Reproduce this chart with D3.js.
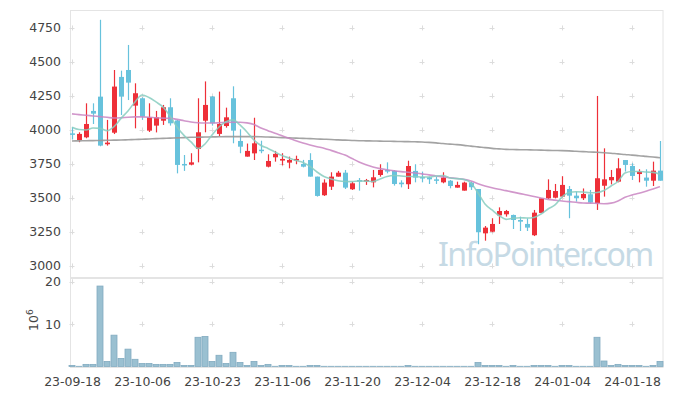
<!DOCTYPE html>
<html><head><meta charset="utf-8">
<script src="https://cdn.jsdelivr.net/npm/d3@7"></script>
<style>body{margin:0;background:#fff}svg{display:block}</style>
</head><body><svg id="c" width="673" height="396"></svg>
<script>
const dates = ["23-09-18","23-09-19","23-09-20","23-09-21","23-09-22","23-09-25","23-09-26","23-09-27",
"23-10-04","23-10-05","23-10-06","23-10-10","23-10-11","23-10-12","23-10-13","23-10-16","23-10-17","23-10-18","23-10-19","23-10-20",
"23-10-23","23-10-24","23-10-25","23-10-26","23-10-27","23-10-30","23-10-31","23-11-01","23-11-02","23-11-03",
"23-11-06","23-11-07","23-11-08","23-11-09","23-11-10","23-11-13","23-11-14","23-11-15","23-11-16","23-11-17",
"23-11-20","23-11-21","23-11-22","23-11-23","23-11-24","23-11-27","23-11-28","23-11-29","23-11-30","23-12-01",
"23-12-04","23-12-05","23-12-06","23-12-07","23-12-08","23-12-11","23-12-12","23-12-13","23-12-14","23-12-15",
"23-12-18","23-12-19","23-12-20","23-12-21","23-12-22","23-12-26","23-12-27","23-12-28","24-01-02","24-01-03",
"24-01-04","24-01-05","24-01-08","24-01-09","24-01-10","24-01-11","24-01-12","24-01-15","24-01-16","24-01-17",
"24-01-18","24-01-19","24-01-22","24-01-23","24-01-24"];
const open  = [3975,3926,3946,4140,4245,3895,3980,4390,4441,4179,4233,3995,4032,4068,4167,4070,3750,3745,3860,4068,
4245,3971,4029,4233,3919,3804,3828,3855,3730,3799,3775,3760,3775,3750,3779,3657,3520,3583,3657,3686,
3564,3632,3625,3615,3669,3706,3699,3613,3601,3699,3654,3652,3637,3615,3627,3576,3554,3613,3566,3240,
3252,3372,3380,3375,3338,3309,3226,3390,3497,3502,3510,3566,3517,3498,3527,3461,3590,3630,3620,3779,
3735,3676,3650,3627,3701];
const high  = [4020,3983,4196,4196,4810,4074,4441,4436,4625,4343,4240,4196,4140,4184,4233,4074,3816,3829,4233,4357,
4250,4282,4164,4321,4005,3900,4090,3921,3821,3846,3829,3804,3811,3780,3829,3657,3637,3689,3699,3706,
3620,3647,3640,3706,3748,3762,3704,3630,3774,3748,3694,3657,3657,3689,3632,3620,3620,3620,3566,3294,
3351,3431,3412,3378,3363,3350,3412,3500,3637,3603,3660,3588,3546,3570,3559,4250,3865,3706,3792,3779,
3755,3711,3711,3767,3919];
const low   = [3930,3910,3939,4044,3880,3885,3970,4110,4220,4012,4074,3985,3982,4037,4032,3681,3699,3740,3762,3983,
4032,3955,4017,3902,3829,3804,3779,3829,3725,3767,3740,3718,3748,3725,3657,3510,3515,3559,3657,3566,
3559,3554,3596,3578,3657,3681,3591,3578,3566,3615,3615,3603,3603,3608,3571,3576,3554,3559,3160,3186,
3248,3309,3363,3272,3257,3257,3220,3390,3492,3497,3505,3351,3473,3485,3460,3412,3510,3600,3615,3694,
3632,3615,3583,3588,3627];
const close = [3965,3971,4044,4120,3885,3907,4319,4245,4348,4270,4098,4093,4093,4167,4049,3743,3740,3762,3983,4184,
4049,4044,4093,3995,3877,3846,3902,3845,3772,3824,3787,3779,3787,3730,3657,3515,3613,3657,3686,3576,
3608,3620,3632,3652,3706,3694,3603,3601,3735,3650,3647,3637,3627,3650,3588,3596,3613,3579,3248,3282,
3309,3404,3404,3338,3326,3282,3392,3497,3559,3551,3596,3517,3498,3529,3466,3645,3637,3654,3718,3743,
3662,3694,3627,3701,3627];
const volume = [0.25,0.05,0.5,0.5,19.0,1.2,7.4,1.9,4.1,1.7,0.7,0.7,0.5,0.5,0.5,0.95,0.25,0.25,6.9,7.1,
1.2,2.65,0.7,3.35,0.95,0.25,1.2,0.25,0.5,0.05,0.25,0.25,0.05,0.05,0.25,0.25,0.05,0.05,0.05,0.05,
0.05,0.05,0.05,0.05,0.05,0.05,0.05,0.05,0.25,0.05,0.05,0.05,0.05,0.05,0.05,0.05,0.05,0.05,0.95,0.25,
0.25,0.25,0.05,0.25,0.05,0.05,0.25,0.25,0.25,0.05,0.25,0.25,0.05,0.05,0.05,6.9,1.3,0.25,0.5,0.25,
0.25,0.25,0.05,0.25,1.2];
const ma5 = [4020,4003,4000,4015,4012,3995,4025,4085,4140,4206,4257,4239,4206,4169,4103,4022,3960,3912,3864,3897,
3963,4022,4061,4074,4037,3985,3926,3886,3864,3838,3812,3794,3775,3761,3732,3691,3658,3640,3627,3621,
3620,3625,3624,3621,3640,3658,3665,3662,3658,3657,3654,3654,3662,3665,3647,3642,3636,3610,3537,3456,
3412,3371,3343,3351,3355,3353,3357,3382,3419,3449,3507,3540,3546,3544,3538,3540,3555,3588,3621,3684,
3695,3695,3691,3688,3675];
const ma20 = [4118,4113,4108,4103,4098,4093,4088,4090,4094,4096,4096,4094,4090,4087,4085,4078,4068,4059,4053,4051,
4051,4053,4056,4057,4057,4052,4040,4015,3995,3975,3958,3940,3920,3904,3890,3877,3866,3850,3833,3816,
3790,3765,3745,3728,3716,3707,3700,3694,3689,3684,3677,3670,3662,3655,3649,3643,3637,3625,3605,3588,
3575,3564,3554,3543,3532,3522,3511,3500,3490,3484,3478,3473,3468,3463,3462,3460,3458,3462,3478,3505,
3522,3535,3550,3566,3583];
const ma120 = [3919,3920,3921,3922,3923,3924,3925,3926,3928,3930,3932,3934,3936,3938,3940,3942,3944,3946,3947,3948,
3949,3950,3951,3951,3951,3951,3951,3950,3948,3946,3944,3942,3940,3938,3936,3934,3932,3930,3927,3925,
3923,3921,3920,3919,3918,3917,3916,3915,3914,3913,3912,3909,3905,3900,3896,3892,3887,3881,3876,3870,
3865,3861,3857,3856,3855,3854,3853,3852,3850,3849,3848,3846,3843,3841,3838,3836,3833,3829,3824,3820,
3815,3811,3806,3801,3796];
const priceTicks = [3000,3250,3500,3750,4000,4250,4500,4750];
const volTicks = [10,20];
const xTickLabels = ["23-09-18","23-10-06","23-10-23","23-11-06","23-11-20","23-12-04","23-12-18","24-01-04","24-01-18"];

const svg = d3.select("#c");
const L=70, R=663, T=10, PB=277, VT=278, VB=367;
const x = d3.scalePoint().domain(dates).range([72,660]);
const y = d3.scaleLinear().domain([2919,4882]).range([PB,T]);
const yv = d3.scaleLinear().domain([0,20.9]).range([366.5,VT]);
const FONT = "DejaVu Sans, sans-serif";
const RED="#ee2f38", BLUE="#67c2dc";

// panel borders
svg.append("rect").attr("x",L+0.5).attr("y",T+0.5).attr("width",R-L-0.5).attr("height",PB-T)
  .attr("fill","none").attr("stroke","#e4e4e4");
svg.append("rect").attr("x",L+0.5).attr("y",VT+0.5).attr("width",R-L-0.5).attr("height",VB-VT)
  .attr("fill","none").attr("stroke","#e4e4e4");

// grid crosses
const gx = xTickLabels.map(d=>x(d));
const crosses = [];
gx.forEach(cx=>{ priceTicks.forEach(v=>crosses.push([cx,y(v)])); volTicks.forEach(v=>crosses.push([cx,yv(v)])); });
const cg = svg.append("g").attr("stroke","#dcdcdc").attr("stroke-width",1);
crosses.forEach(([cx,cy])=>{
  cg.append("line").attr("x1",cx-2.5).attr("x2",cx+2.5).attr("y1",Math.round(cy)+0.5).attr("y2",Math.round(cy)+0.5);
  cg.append("line").attr("x1",Math.round(cx)+0.5).attr("x2",Math.round(cx)+0.5).attr("y1",cy-2.5).attr("y2",cy+2.5);
});

// watermark
svg.append("text").attr("x",438).attr("y",266).attr("font-family","Noto Sans, sans-serif")
  .attr("font-size",32).attr("letter-spacing",-1.6).attr("fill","#c6dae5")
  .text("InfoPointer.com");

// volume bars
svg.append("g").selectAll("rect").data(dates).join("rect")
  .attr("x",(d)=>x(d)-3).attr("width",6)
  .attr("y",(d,i)=>yv(volume[i])).attr("height",(d,i)=>yv(0)-yv(volume[i]))
  .attr("fill","#9ac0d1").attr("stroke","#82abc0").attr("stroke-width",0.8);

// candles
const cs = svg.append("g");
dates.forEach((d,i)=>{
  const up = close[i]>=open[i];
  const col = up?RED:BLUE;
  const cx = Math.round(x(d))+0.5;
  cs.append("line").attr("x1",cx).attr("x2",cx).attr("y1",y(high[i])).attr("y2",y(low[i]))
    .attr("stroke",col).attr("stroke-width",1.2);
  const top = y(Math.max(open[i],close[i])), bot = y(Math.min(open[i],close[i]));
  cs.append("rect").attr("x",cx-2.5).attr("width",5).attr("y",top).attr("height",Math.max(1.5,bot-top))
    .attr("fill",col);
});

// moving averages
const line = arr => d3.line().x((d,i)=>x(dates[i])).y(d=>y(d)).curve(d3.curveMonotoneX)(arr);
svg.append("path").attr("d",line(ma120)).attr("fill","none").attr("stroke","#999").attr("stroke-width",1.6).attr("opacity",0.9);
svg.append("path").attr("d",line(ma20)).attr("fill","none").attr("stroke","#c985c2").attr("stroke-width",1.6).attr("opacity",0.85);
svg.append("path").attr("d",line(ma5)).attr("fill","none").attr("stroke","#87cdbf").attr("stroke-width",1.6).attr("opacity",0.85);

// axes
const yAx = svg.append("g").attr("transform",`translate(${L-6},0)`)
  .call(d3.axisLeft(y).tickValues(priceTicks).tickSize(0).tickFormat(d3.format("d")));
const vAx = svg.append("g").attr("transform",`translate(${L-6},0)`)
  .call(d3.axisLeft(yv).tickValues(volTicks).tickSize(0));
const xAx = svg.append("g").attr("transform",`translate(0,${VB})`)
  .call(d3.axisBottom(x).tickValues(xTickLabels).tickSize(0).tickPadding(10));
[yAx,vAx,xAx].forEach(g=>{
  g.select(".domain").remove();
  g.selectAll("text").attr("font-family",FONT).attr("font-size",12.5).attr("fill","#444");
});

// 10^6 label
const lab = svg.append("text").attr("transform","translate(38,331) rotate(-90)")
  .attr("font-family",FONT).attr("font-size",12.5).attr("fill","#444");
lab.append("tspan").text("10");
lab.append("tspan").attr("dy",-5).attr("font-size",9).text("6");
</script></body></html>
